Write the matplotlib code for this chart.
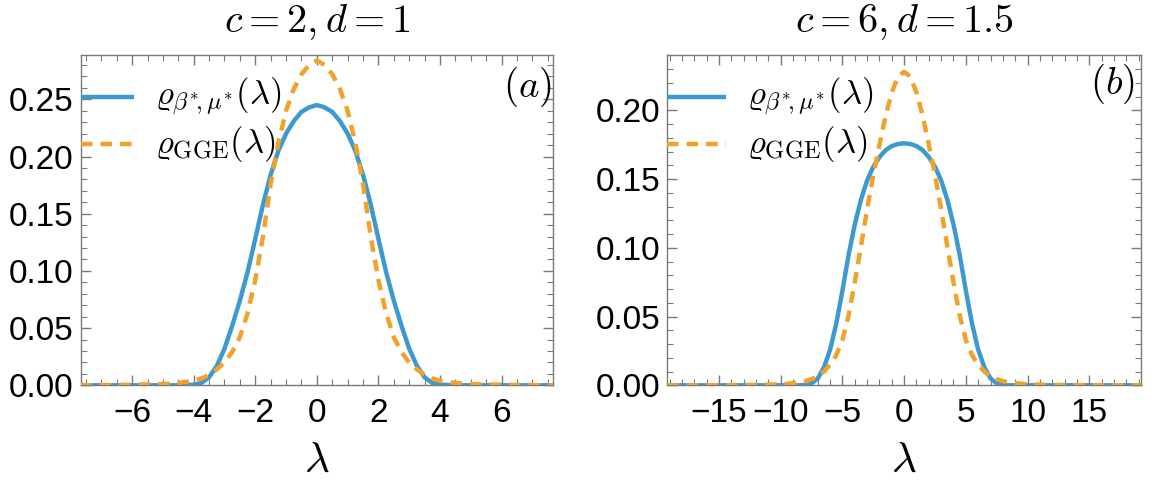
import matplotlib.pyplot as plt
from matplotlib.ticker import MultipleLocator

# panel (a): c = 2, d = 1  (symmetric in lambda)
lam_a = [-7.7, -6.5, -5.5, -5.0, -4.5, -4.0, -3.75, -3.5, -3.25, -3.0, -2.75, -2.5, -2.25,
         -2.0, -1.75, -1.5, -1.25, -1.0, -0.75, -0.5, -0.25, 0.0,
         0.25, 0.5, 0.75, 1.0, 1.25, 1.5, 1.75, 2.0, 2.25, 2.5, 2.75, 3.0,
         3.25, 3.5, 3.75, 4.0, 4.5, 5.0, 5.5, 6.5, 7.7]
rho_star_a = [0, 0, 0, 0, 0, 0.0005, 0.002, 0.007, 0.017, 0.032, 0.052, 0.074, 0.099,
              0.128, 0.158, 0.184, 0.205, 0.220, 0.231, 0.239, 0.243, 0.245,
              0.243, 0.239, 0.231, 0.220, 0.205, 0.184, 0.158, 0.128, 0.099, 0.074, 0.052, 0.032,
              0.017, 0.007, 0.002, 0.0005, 0, 0, 0, 0, 0]
rho_gge_a = [0, 0.0003, 0.0008, 0.001, 0.002, 0.004, 0.006, 0.009, 0.014, 0.020, 0.029, 0.042, 0.063,
             0.092, 0.130, 0.176, 0.212, 0.240, 0.259, 0.272, 0.280, 0.284,
             0.280, 0.272, 0.259, 0.240, 0.212, 0.176, 0.130, 0.092, 0.063, 0.042, 0.029, 0.020,
             0.014, 0.009, 0.006, 0.004, 0.002, 0.001, 0.0008, 0.0003, 0]

# panel (b): c = 6, d = 1.5
lam_b = [-19.2, -15, -12, -11, -10, -9, -8.5, -8, -7.5, -7, -6.5, -6, -5.5, -5, -4.5, -4,
         -3.5, -3, -2.5, -2, -1.5, -1, -0.5, 0, 0.5, 1, 1.5, 2, 2.5, 3, 3.5,
         4, 4.5, 5, 5.5, 6, 6.5, 7, 7.5, 8, 8.5, 9, 10, 11, 12, 15, 19.2]
rho_star_b = [0, 0, 0, 0, 0, 0, 0, 0.0003, 0.0015, 0.005, 0.013, 0.026, 0.045, 0.069, 0.095, 0.117,
              0.135, 0.149, 0.159, 0.166, 0.171, 0.174, 0.1755, 0.176, 0.1755, 0.174, 0.171, 0.166, 0.159, 0.149, 0.135,
              0.117, 0.095, 0.069, 0.045, 0.026, 0.013, 0.005, 0.0015, 0.0003, 0, 0, 0, 0, 0, 0, 0]
rho_gge_b = [0, 0.0001, 0.0003, 0.0005, 0.0008, 0.0015, 0.002, 0.003, 0.0045, 0.0065, 0.010, 0.015, 0.022, 0.033, 0.051, 0.075,
             0.101, 0.128, 0.153, 0.175, 0.196, 0.213, 0.2245, 0.228, 0.2245, 0.213, 0.196, 0.175, 0.153, 0.128, 0.101,
             0.075, 0.051, 0.033, 0.022, 0.015, 0.010, 0.0065, 0.0045, 0.003, 0.002, 0.0015, 0.0008, 0.0005, 0.0003, 0.0001, 0]

titles = [r"$c=2, d=1$", r"$c=6, d=1.5$"]
tags = [r"$(a)$", r"$(b)$"]
label_star = r"$\varrho_{\beta^{*}\!,\mu^{*}}(\lambda)$"
label_gge = r"$\varrho_{\mathrm{GGE}}(\lambda)$"

BLUE = "#3d9ad1"
ORANGE = "#f2a12a"
FRAME = "#7a7a7a"

plt.rcParams["mathtext.fontset"] = "cm"
plt.rcParams["font.family"] = ["Liberation Sans", "DejaVu Sans"]
plt.rcParams["axes.unicode_minus"] = True

fig = plt.figure(figsize=(11.61, 4.83), dpi=100)
W, H = 1161, 483
boxes = [(80.7, 553.0), (667.3, 1141.0)]
top_px, bot_px = 55.3, 385.3
LW = 3.2

panels = [
    (lam_a, rho_star_a, rho_gge_a, (-7.67, 7.67), 0.2885, 2, 0.5, 53, (0.945, 0.904)),
    (lam_b, rho_star_b, rho_gge_b, (-19.2, 19.2), 0.240, 5, 1, 59, (0.939, 0.913)),
]

for i, (lam, rs, rg, xlim, ytop, xmaj, xmin, leg_len, tag_pos) in enumerate(panels):
    x0, x1 = boxes[i]
    ax = fig.add_axes([x0 / W, 1 - bot_px / H, (x1 - x0) / W, (bot_px - top_px) / H])
    ax.plot(lam, rs, color=BLUE, lw=LW, solid_capstyle="butt", solid_joinstyle="round", zorder=3)
    ax.plot(lam, rg, color=ORANGE, lw=LW, dashes=(2.6, 1.8), zorder=4)
    ax.set_xlim(*xlim)
    ax.set_ylim(0, ytop)

    ax.xaxis.set_major_locator(MultipleLocator(xmaj))
    ax.xaxis.set_minor_locator(MultipleLocator(xmin))
    ax.yaxis.set_major_locator(MultipleLocator(0.05))
    ax.yaxis.set_minor_locator(MultipleLocator(0.01))
    ax.yaxis.set_major_formatter(plt.FormatStrFormatter("%.2f"))
    ax.tick_params(which="both", direction="in", top=True, right=True, color=FRAME,
                   labelsize=24)
    ax.tick_params(axis="y", pad=5)
    ax.tick_params(axis="x", pad=9)
    ax.tick_params(which="major", length=7, width=1)
    ax.tick_params(which="minor", length=4, width=0.8)
    for s in ax.spines.values():
        s.set_color(FRAME)
        s.set_linewidth(1.0)

    ax.set_title(titles[i], fontsize=29, pad=17)
    ax.set_xlabel(r"$\lambda$", fontsize=31, labelpad=9)

    # legend drawn by hand at the upper left, as in the reference
    fx = leg_len / (x1 - x0)
    ax.plot([0, fx], [0.874, 0.874], transform=ax.transAxes, color=BLUE, lw=LW,
            solid_capstyle="butt", clip_on=False, zorder=5)
    ax.plot([0, fx], [0.731, 0.731], transform=ax.transAxes, color=ORANGE, lw=LW,
            dashes=(2.6, 1.8), clip_on=False, zorder=5)
    tx = fx + 21 / (x1 - x0)
    ax.text(tx, 0.874, label_star, transform=ax.transAxes, fontsize=25, va="center", ha="left")
    ax.text(tx, 0.731, label_gge, transform=ax.transAxes, fontsize=25, va="center", ha="left")
    ax.text(tag_pos[0], tag_pos[1], tags[i], transform=ax.transAxes, fontsize=28,
            ha="center", va="center")

fig.savefig("out.png", dpi=100)
